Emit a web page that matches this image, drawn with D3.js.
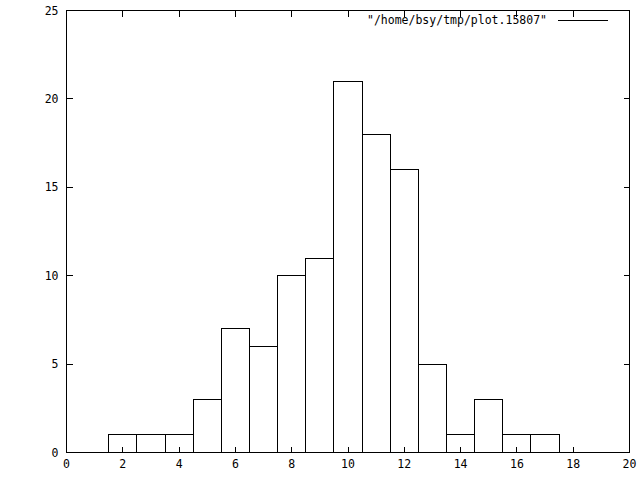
<!DOCTYPE html>
<html><head><meta charset="utf-8">
<script src="https://cdn.jsdelivr.net/npm/d3@7"></script>
<style>body{margin:0;background:#fff}svg{display:block}text{font-family:"DejaVu Sans Mono",monospace;font-size:11.5px;fill:#000}</style>
</head><body>
<script>
const centers = [2,3,4,5,6,7,8,9,10,11,12,13,14,15,16,17];
const counts  = [1,1,1,3,7,6,10,11,21,18,16,5,1,3,1,1];
const xTicks = [0,2,4,6,8,10,12,14,16,18,20];
const yTicks = [0,5,10,15,20,25];
const legendLabel = '"/home/bsy/tmp/plot.15807"';

const W=640,H=480, L=66.5, R=629.5, T=10.5, B=452.5;
const svg=d3.select("body").append("svg").attr("width",W).attr("height",H);
const x=d3.scaleLinear().domain([0,20]).range([L,R]);
const y=d3.scaleLinear().domain([0,25]).range([B,T]);
const g=svg.append("g").attr("shape-rendering","crispEdges");
const tl=6;
xTicks.forEach(t=>{
  g.append("line").attr("x1",x(t)).attr("x2",x(t)).attr("y1",B).attr("y2",B-tl).attr("stroke","#000");
  g.append("line").attr("x1",x(t)).attr("x2",x(t)).attr("y1",T).attr("y2",T+tl).attr("stroke","#000");
  svg.append("text").attr("x",x(t)).attr("y",B+15).attr("text-anchor","middle").text(t);
});
yTicks.forEach(t=>{
  g.append("line").attr("x1",L).attr("x2",L+tl).attr("y1",y(t)).attr("y2",y(t)).attr("stroke","#000");
  g.append("line").attr("x1",R).attr("x2",R-tl).attr("y1",y(t)).attr("y2",y(t)).attr("stroke","#000");
  svg.append("text").attr("x",L-8).attr("y",y(t)+4).attr("text-anchor","end").text(t);
});
g.selectAll("rect.bar").data(centers).enter().append("rect")
  .attr("x",d=>x(d-0.5)).attr("width",d=>x(d+0.5)-x(d-0.5))
  .attr("y",(d,i)=>y(counts[i])).attr("height",(d,i)=>y(0)-y(counts[i]))
  .attr("fill","none").attr("stroke","#000");
g.append("rect").attr("x",L).attr("y",T).attr("width",R-L).attr("height",B-T).attr("fill","none").attr("stroke","#000");
svg.append("text").attr("x",547).attr("y",24).attr("text-anchor","end").text(legendLabel);
g.append("line").attr("x1",558).attr("x2",608).attr("y1",20.5).attr("y2",20.5).attr("stroke","#000");
</script>
</body></html>
